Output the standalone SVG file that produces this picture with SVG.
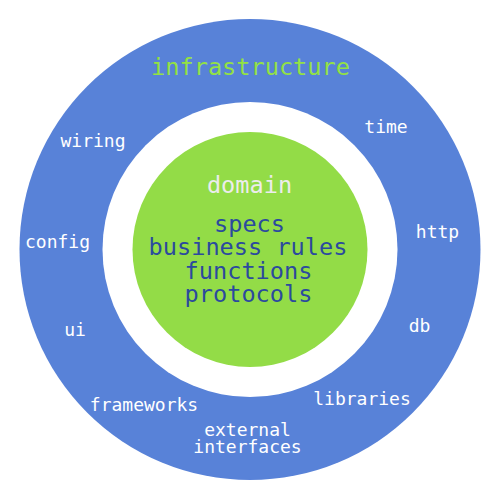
<svg xmlns="http://www.w3.org/2000/svg" width="500" height="500" viewBox="0 0 500 500">
<style>
text{font-family:"DejaVu Sans Mono","Liberation Mono",monospace;text-anchor:middle}
.s{font-size:18px;fill:#ffffff}
.b{font-size:23.6px}
.core{fill:#2b4a9e}
</style>
<rect width="500" height="500" fill="#ffffff"/>
<g id="infrastructure">
<circle cx="250" cy="249.5" r="230.5" fill="#5882d8"/>
<circle cx="250" cy="249.5" r="147.5" fill="#ffffff"/>
<text class="b" x="250.5" y="75" fill="#93e144">infrastructure</text>
<text class="s" x="93" y="146.7">wiring</text>
<text class="s" x="57.5" y="248">config</text>
<text class="s" x="75" y="336">ui</text>
<text class="s" x="144" y="410.7">frameworks</text>
<text class="s" x="247.5" y="435.7">external</text>
<text class="s" x="247.5" y="453">interfaces</text>
<text class="s" x="362" y="405">libraries</text>
<text class="s" x="419.5" y="331.7">db</text>
<text class="s" x="437.5" y="238">http</text>
<text class="s" x="386" y="133">time</text>
</g>
<g id="domain">
<circle cx="250" cy="249.5" r="117.5" fill="#93dc47"/>
<text class="b" x="249.5" y="193" fill="#ececec">domain</text>
<text class="b core" x="249.5" y="232">specs</text>
<text class="b core" x="248" y="255">business rules</text>
<text class="b core" x="248.5" y="278.5">functions</text>
<text class="b core" x="248.5" y="302">protocols</text>
</g>
<g id="connectors"/>
</svg>
